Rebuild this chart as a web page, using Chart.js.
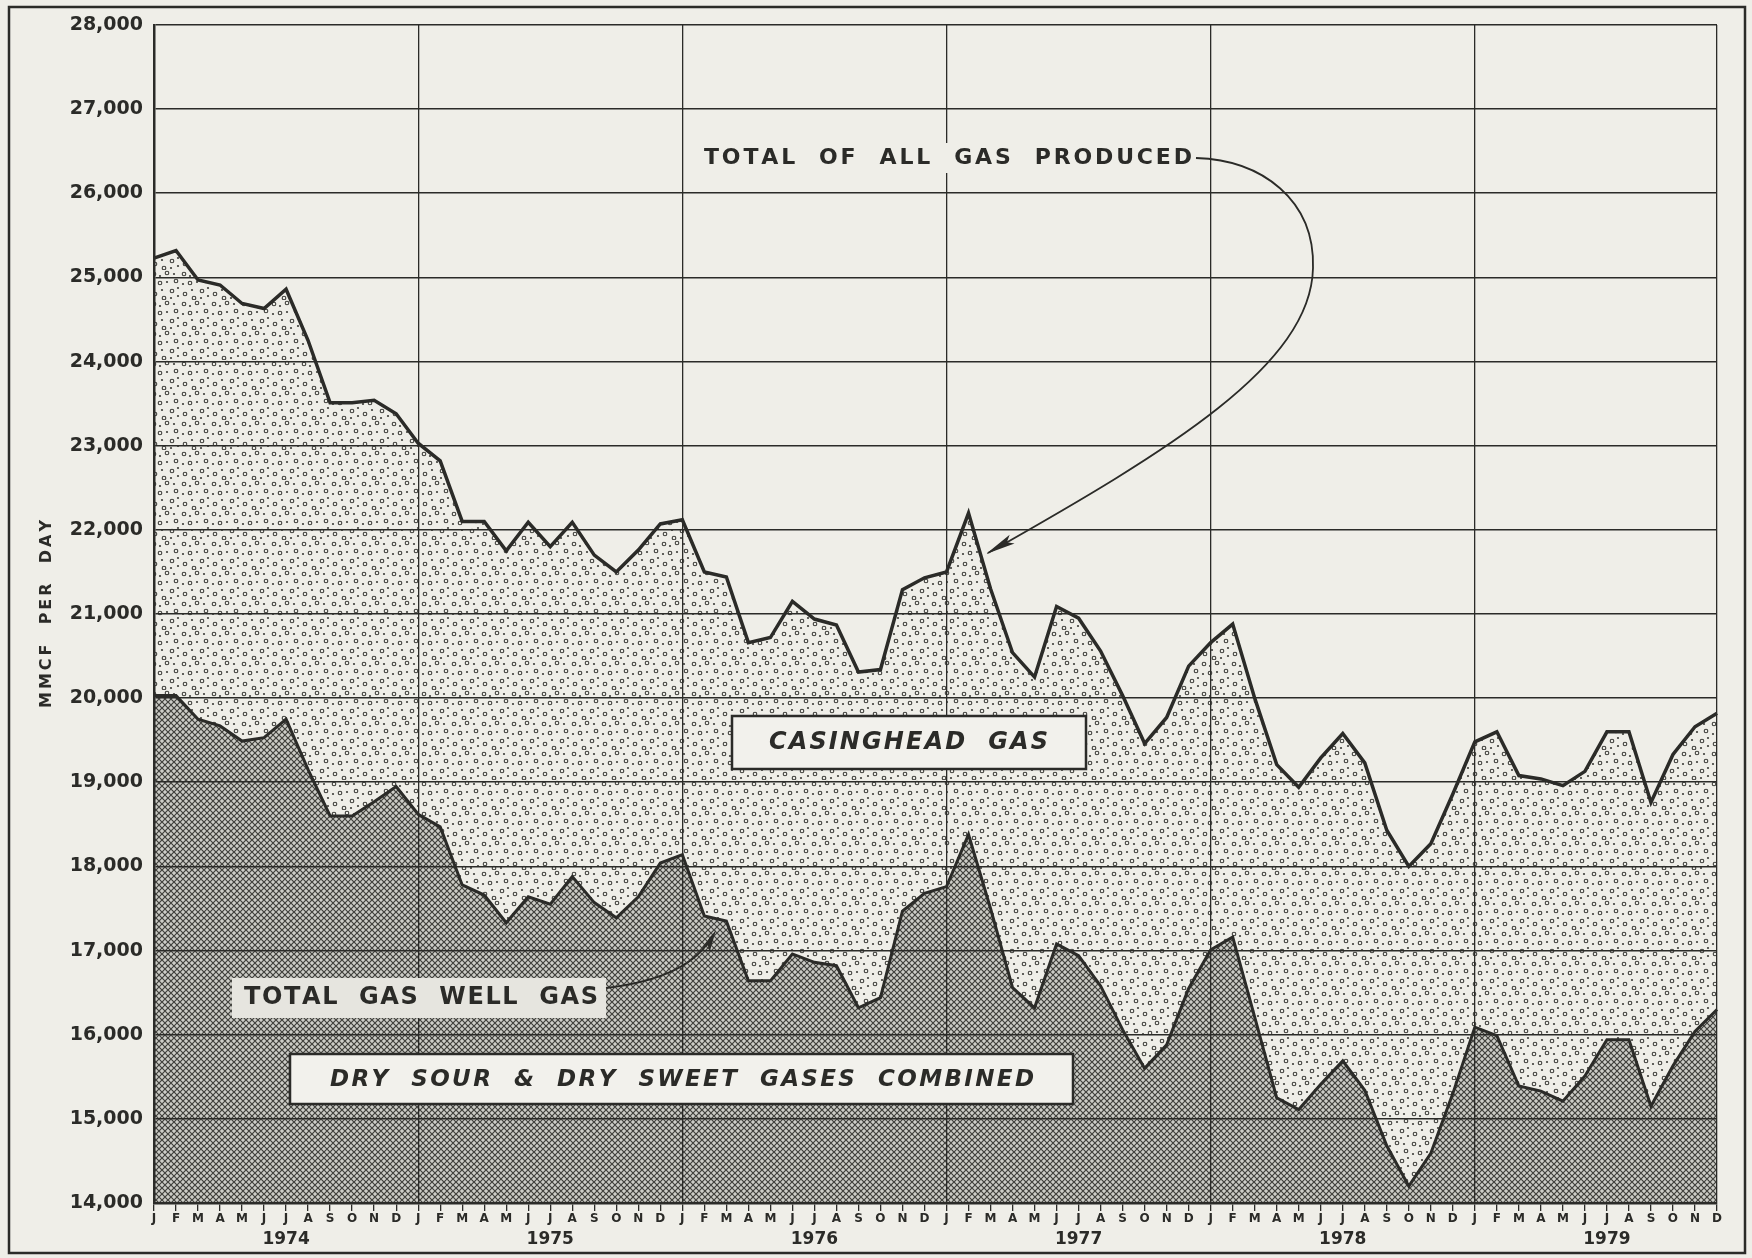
<!DOCTYPE html>
<html>
<head>
<meta charset="utf-8">
<script src="https://cdn.jsdelivr.net/npm/chart.js@4.4.1/dist/chart.umd.min.js"></script>
<style>
  html, body { margin: 0; padding: 0; background: #efeee8; }
  #chart { display: block; background: #efeee8; }
</style>
</head>
<body>
<canvas id="chart" width="1752" height="1258"></canvas>
<script>
// months Jan 1974 .. Dec 1979
const monthLetters = ["J", "F", "M", "A", "M", "J", "J", "A", "S", "O", "N", "D"];
const years = [1974, 1975, 1976, 1977, 1978, 1979];

// MMCF per day
const totalGas = [
  25230, 25320, 24970, 24910, 24690, 24630, 24860, 24250, 23510, 23510, 23540, 23380,
  23030, 22820, 22100, 22100, 21750, 22090, 21800, 22090, 21700, 21500, 21760, 22070,
  22120, 21500, 21440, 20660, 20720, 21150, 20940, 20870, 20310, 20340, 21290, 21430,
  21500, 22200, 21300, 20540, 20250, 21090, 20950, 20560, 20030, 19460, 19770, 20380,
  20660, 20880, 20000, 19210, 18940, 19290, 19580, 19230, 18430, 18000, 18270, 18860,
  19480, 19600, 19080, 19040, 18960, 19130, 19600, 19600, 18760, 19330, 19660, 19820
];
const gasWellGas = [
  20030, 20030, 19750, 19670, 19490, 19530, 19750, 19150, 18600, 18600, 18770, 18950,
  18620, 18470, 17780, 17660, 17330, 17640, 17550, 17880, 17570, 17390, 17640, 18040,
  18140, 17410, 17350, 16640, 16640, 16960, 16860, 16820, 16320, 16440, 17470, 17680,
  17760, 18380, 17500, 16560, 16320, 17080, 16940, 16580, 16060, 15600, 15880, 16550,
  17010, 17160, 16210, 15250, 15110, 15410, 15690, 15340, 14680, 14200, 14590, 15300,
  16090, 15990, 15390, 15330, 15210, 15510, 15940, 15940, 15150, 15630, 16040, 16300
];

const labels = [];
years.forEach(y => monthLetters.forEach((m, i) => labels.push(y + "-" + (i + 1))));

const ink = "#2b2b28";
const paper = "#efeee8";
const font = '"DejaVu Sans", "Liberation Sans", sans-serif';

// crosshatch for the gas well area
const makeHatch = () => {
  const t = document.createElement("canvas");
  t.width = 6; t.height = 6;
  const c = t.getContext("2d");
  c.fillStyle = "#cdcdc7";
  c.fillRect(0, 0, 6, 6);
  c.strokeStyle = "#40403c";
  c.lineWidth = 1.2;
  c.beginPath();
  c.moveTo(-1, -1); c.lineTo(7, 7);
  c.moveTo(-1, 7); c.lineTo(7, -1);
  c.stroke();
  return c.createPattern(t, "repeat");
};

// stipple for the casinghead area
const makeDots = () => {
  const t = document.createElement("canvas");
  t.width = 30; t.height = 30;
  const c = t.getContext("2d");
  c.strokeStyle = "#3f3f3b";
  c.fillStyle = "#3f3f3b";
  c.lineWidth = 1.1;
  [[4, 4], [17, 3], [26, 11], [10, 13], [22, 21], [5, 24], [14, 28]].forEach(([x, y]) => {
    c.beginPath(); c.arc(x, y, 1.8, 0, Math.PI * 2); c.stroke();
  });
  [[10, 6], [24, 4], [3, 14], [17, 12], [28, 18], [12, 20], [21, 28], [28, 26]].forEach(([x, y]) => {
    c.beginPath(); c.arc(x, y, 1.1, 0, Math.PI * 2); c.fill();
  });
  return c.createPattern(t, "repeat");
};

// draw text spread to a given width
const spaced = (c, text, x, y, width) => {
  const chars = [...text];
  const raw = chars.reduce((s, ch) => s + c.measureText(ch).width, 0);
  const gap = (width - raw) / (chars.length - 1);
  c.textAlign = "left";
  let cx = x;
  chars.forEach(ch => { c.fillText(ch, cx, y); cx += c.measureText(ch).width + gap; });
};

const arrowHead = (c, x, y, ang, len, half) => {
  c.save();
  c.translate(x, y);
  c.rotate(ang);
  c.beginPath();
  c.moveTo(0, 0);
  c.lineTo(-len, -half);
  c.lineTo(-len * 0.8, 0);
  c.lineTo(-len, half);
  c.closePath();
  c.fill();
  c.restore();
};

const notes = {
  id: "notes",
  afterDraw(chart) {
    const c = chart.ctx;
    const area = chart.chartArea;
    c.save();
    c.fillStyle = ink;
    c.strokeStyle = ink;
    c.textBaseline = "middle";

    // outer frame
    c.lineWidth = 2.5;
    c.strokeRect(9, 7, 1736, 1246);

    // y axis title
    c.save();
    c.translate(47, (area.top + area.bottom) / 2);
    c.rotate(-Math.PI / 2);
    c.font = "bold 16px " + font;
    spaced(c, "MMCF  PER  DAY", -94, 0, 188);
    c.restore();

    // total of all gas produced
    c.fillStyle = paper;
    c.fillRect(698, 143, 500, 30);
    c.fillStyle = ink;
    c.font = "bold 22px " + font;
    spaced(c, "TOTAL  OF  ALL  GAS  PRODUCED", 704, 158, 488);
    c.lineWidth = 1.8;
    c.beginPath();
    c.moveTo(1196, 158);
    c.bezierCurveTo(1262, 160, 1315, 200, 1313, 268);
    c.bezierCurveTo(1311, 365, 1170, 450, 988, 553);
    c.stroke();
    arrowHead(c, 986, 554, Math.atan2(553 - 450, 988 - 1170), 30, 5);

    // casinghead gas box
    c.fillStyle = "#f2f1ec";
    c.fillRect(732, 716, 354, 53);
    c.lineWidth = 2.5;
    c.strokeRect(732, 716, 354, 53);
    c.fillStyle = ink;
    c.font = "italic bold 24px " + font;
    spaced(c, "CASINGHEAD  GAS", 769, 743, 279);

    // total gas well gas
    c.fillStyle = "#e6e5df";
    c.fillRect(232, 978, 374, 40);
    c.fillStyle = ink;
    c.font = "bold 24px " + font;
    spaced(c, "TOTAL  GAS  WELL  GAS", 244, 998, 354);
    c.lineWidth = 1.8;
    c.beginPath();
    c.moveTo(606, 988);
    c.quadraticCurveTo(690, 978, 712, 936);
    c.stroke();
    arrowHead(c, 716, 930, Math.atan2(936 - 978, 712 - 690), 22, 4.5);

    // dry sour & dry sweet box
    c.fillStyle = "#f2f1ec";
    c.fillRect(290, 1054, 783, 50);
    c.lineWidth = 2.5;
    c.strokeRect(290, 1054, 783, 50);
    c.fillStyle = ink;
    c.font = "italic bold 23px " + font;
    spaced(c, "DRY  SOUR  &  DRY  SWEET  GASES  COMBINED", 330, 1080, 704);

    c.restore();
  }
};

const ctx = document.getElementById("chart").getContext("2d");

new Chart(ctx, {
  type: "line",
  data: {
    labels: labels,
    datasets: [
      {
        label: "Total of all gas produced",
        data: totalGas,
        borderColor: ink,
        borderWidth: 3.5,
        pointRadius: 0,
        tension: 0,
        fill: "+1",
        backgroundColor: makeDots()
      },
      {
        label: "Total gas well gas",
        data: gasWellGas,
        borderColor: ink,
        borderWidth: 3,
        pointRadius: 0,
        tension: 0,
        fill: "start",
        backgroundColor: makeHatch()
      }
    ]
  },
  options: {
    responsive: false,
    animation: false,
    layout: { padding: { top: 25, right: 35, left: 0, bottom: 0 } },
    plugins: {
      legend: { display: false },
      tooltip: { enabled: false },
      filler: { drawTime: "beforeDraw" }
    },
    scales: {
      x: {
        type: "category",
        offset: false,
        grid: {
          color: (g) => (g.index % 12 === 0 || g.index === labels.length - 1) ? ink : "rgba(0,0,0,0)",
          lineWidth: 1.3,
          tickColor: ink,
          tickLength: 8
        },
        border: { color: ink, width: 2.5 },
        ticks: {
          autoSkip: false,
          maxRotation: 0,
          padding: 1,
          color: ink,
          font: { family: font, size: 12, weight: "bold" },
          callback: (v, i) => monthLetters[i % 12]
        },
        afterFit: (s) => { s.height = 24; }
      },
      x2: {
        type: "category",
        position: "bottom",
        offset: false,
        grid: { display: false, drawTicks: false },
        border: { display: false },
        ticks: {
          autoSkip: false,
          maxRotation: 0,
          padding: 2,
          color: ink,
          font: { family: font, size: 17, weight: "bold" },
          callback: (v, i) => (i % 12 === 6 ? String(years[Math.floor(i / 12)]) : "")
        },
        afterFit: (s) => { s.height = 31; }
      },
      y: {
        min: 14000,
        max: 28000,
        grid: { color: ink, lineWidth: 1.6, drawTicks: false },
        border: { color: ink, width: 2.5 },
        ticks: {
          stepSize: 1000,
          padding: 11,
          color: ink,
          font: { family: font, size: 19, weight: "bold" },
          callback: (v) => v.toLocaleString("en-US")
        },
        afterFit: (s) => { s.width = 154; }
      }
    }
  },
  plugins: [notes]
});
</script>
</body>
</html>
